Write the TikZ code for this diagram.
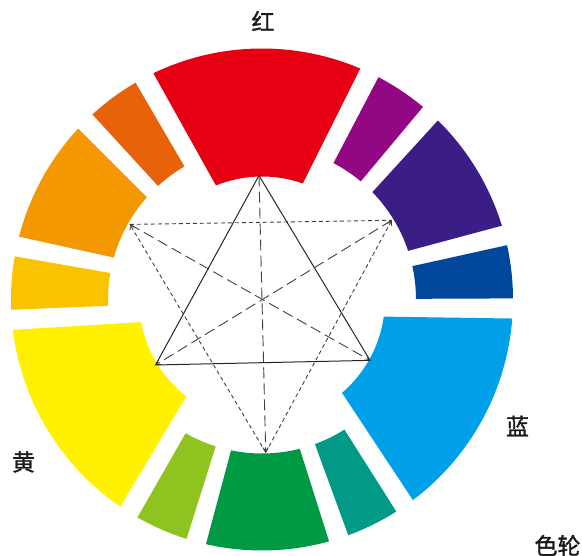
\documentclass[tikz,border=0pt]{standalone}
\usepackage{fontspec}
\newfontfamily\cjk[FakeBold=1.2]{Noto Sans CJK SC}
\usetikzlibrary{arrows.meta}
\definecolor{cRed}{HTML}{E60012}
\definecolor{cRedOrange}{HTML}{E8620A}
\definecolor{cOrange}{HTML}{F39800}
\definecolor{cYellowOrange}{HTML}{F9C300}
\definecolor{cYellow}{HTML}{FFF100}
\definecolor{cYellowGreen}{HTML}{8FC31F}
\definecolor{cGreen}{HTML}{009944}
\definecolor{cBlueGreen}{HTML}{009A87}
\definecolor{cBlue}{HTML}{00A0E9}
\definecolor{cDarkBlue}{HTML}{00479D}
\definecolor{cIndigo}{HTML}{3B1E85}
\definecolor{cPurple}{HTML}{920783}
% segment: colour, outer start, outer end, inner start, inner end, inner radius
\newcommand\wheelseg[6]{%
  \fill[#1] (#2:251pt) arc[start angle=#2, end angle=#3, radius=251pt]
    -- (#5:#6pt) arc[start angle=#5, end angle=#4, radius=#6pt] -- cycle;}
\tikzset{
  lbl/.style={font=\cjk\fontsize{23}{23}\selectfont, text=black!90, inner sep=0pt},
  solidline/.style={line width=1pt, black!85},
  longdash/.style={line width=0.9pt, black!75, dash pattern=on 11pt off 5pt},
  shortdash/.style={line width=0.9pt, black!75, dash pattern=on 4pt off 3pt},
  tip/.style={-{Straight Barb[length=4pt,width=5pt]}}
}
\begin{document}
\begin{tikzpicture}[x=1pt,y=1pt]
\useasboundingbox (0,0) rectangle (582,556);
\begin{scope}[shift={(262,256.5)}]
  % primaries
  \wheelseg{cRed}{66.95}{115.65}{70.6}{112.0}{123}
  \wheelseg{cYellow}{186.95}{235.65}{190.6}{232.0}{123}
  \wheelseg{cBlue}{306.95}{355.65}{310.6}{352.0}{123}
  % secondaries
  \wheelseg{cIndigo}{17.1}{45.5}{18.4}{44.2}{154}
  \wheelseg{cOrange}{137.1}{165.5}{138.4}{164.2}{154}
  \wheelseg{cGreen}{257.1}{285.5}{258.4}{284.2}{154}
  % tertiaries
  \wheelseg{cPurple}{50.1}{62.35}{50.1}{62.35}{154}
  \wheelseg{cRedOrange}{120.25}{132.5}{120.25}{132.5}{154}
  \wheelseg{cYellowOrange}{170.1}{182.35}{170.1}{182.35}{154}
  \wheelseg{cYellowGreen}{240.25}{252.5}{240.25}{252.5}{154}
  \wheelseg{cBlueGreen}{290.1}{302.35}{290.1}{302.35}{154}
  \wheelseg{cDarkBlue}{0.25}{12.5}{0.25}{12.5}{154}
  % vertices
  \coordinate (red) at (91.4:124pt);
  \coordinate (yellow) at (211.6:125pt);
  \coordinate (blue) at (330.6:124pt);
  \coordinate (orange) at (150.4:152pt);
  \coordinate (violet) at (31.4:152pt);
  \coordinate (green) at (271.4:153pt);
  % inverted dashed triangle
  \draw[shortdash] (orange) -- (violet);
  \draw[shortdash,tip] (green) -- (orange);
  \draw[shortdash,tip] (green) -- (violet);
  % complementary axes
  \draw[longdash,tip] (red) -- (green);
  \draw[longdash,tip] (orange) -- (blue);
  \draw[longdash,tip] (violet) -- (yellow);
  % primary triangle
  \draw[solidline,line join=miter] (red) -- (yellow) -- (blue) -- cycle;
\end{scope}
\node[lbl] (lred) at (263,535) {红};
\node[lbl] (lyellow) at (23.5,94) {黄};
\node[lbl] (lblue) at (517.5,130) {蓝};
\node[lbl] (lwheel) at (557.5,10.5) {色轮};
\end{tikzpicture}
\end{document}
